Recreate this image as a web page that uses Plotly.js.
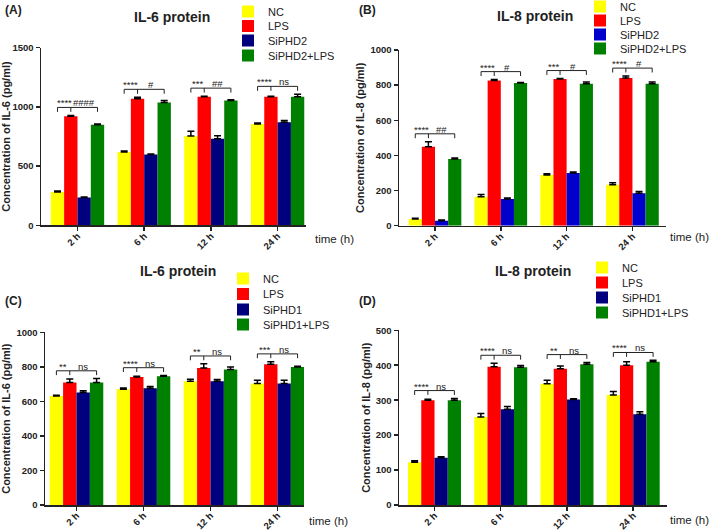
<!DOCTYPE html>
<html>
<head>
<meta charset="utf-8">
<script src="https://cdn.plot.ly/plotly-3.0.1.min.js"></script>
<style>html,body{margin:0;padding:0;background:#fff}#chart{width:709px;height:531px}</style>
</head>
<body>
<div id="chart"></div>
<script>
// ---- data ----
const times = ['2 h', '6 h', '12 h', '24 h'];

// Panel A: IL-6, SiPHD2
const groupsA = ['NC', 'LPS', 'SiPHD2', 'SiPHD2+LPS'];
const a_NC = [282, 619, 754, 855];      const a_NC_err = [8, 8, 40, 8];
const a_LPS = [920, 1069, 1086, 1086];  const a_LPS_err = [8, 12, 5, 5];
const a_Si = [234, 597, 732, 870];      const a_Si_err = [5, 5, 25, 15];
const a_SiLPS = [850, 1038, 1055, 1086];const a_SiLPS_err = [5, 15, 5, 20];
const sigA = [['****', '####'], ['****', '#'], ['***', '##'], ['****', 'ns']];

// Panel B: IL-8, SiPHD2
const groupsB = ['NC', 'LPS', 'SiPHD2', 'SiPHD2+LPS'];
const b_NC = [38, 165, 288, 233];       const b_NC_err = [5, 12, 8, 12];
const b_LPS = [450, 827, 835, 840];     const b_LPS_err = [28, 5, 3, 12];
const b_Si = [28, 152, 300, 184];       const b_Si_err = [5, 5, 5, 10];
const b_SiLPS = [380, 812, 808, 808];   const b_SiLPS_err = [5, 3, 10, 10];
const sigB = [['****', '##'], ['****', '#'], ['***', '#'], ['****', '#']];

// Panel C: IL-6, SiPHD1
const groupsC = ['NC', 'LPS', 'SiPHD1', 'SiPHD1+LPS'];
const c_NC = [631, 670, 716, 703];      const c_NC_err = [5, 8, 12, 20];
const c_LPS = [710, 741, 793, 815];     const c_LPS_err = [20, 5, 25, 15];
const c_Si = [652, 676, 716, 703];      const c_Si_err = [10, 10, 10, 20];
const c_SiLPS = [710, 745, 784, 799];   const c_SiLPS_err = [22, 5, 15, 5];
const sigC = [['**', 'ns'], ['****', 'ns'], ['**', 'ns'], ['***', 'ns']];

// Panel D: IL-8, SiPHD1
const groupsD = ['NC', 'LPS', 'SiPHD1', 'SiPHD1+LPS'];
const d_NC = [122, 252, 347, 315];      const d_NC_err = [5, 10, 10, 10];
const d_LPS = [300, 396, 390, 400];     const d_LPS_err = [3, 10, 8, 10];
const d_Si = [135, 274, 302, 260];      const d_Si_err = [3, 8, 2, 7];
const d_SiLPS = [300, 394, 403, 410];   const d_SiLPS_err = [5, 5, 5, 4];
const sigD = [['****', 'ns'], ['****', 'ns'], ['**', 'ns'], ['****', 'ns']];

// ---- styling / layout ----
const W = 709, H = 531;
const px = v => v / W, py = v => 1 - v / H;
const FONT = 'Liberation Sans, Arial, sans-serif';
const INK = '#222';
const BARGAP = 0.2;
const LEG_OFFSET = 15;   // px from legend top to the centre of its first row

const panels = [
  {id: '', names: groupsA, vals: [a_NC, a_LPS, a_Si, a_SiLPS], errs: [a_NC_err, a_LPS_err, a_Si_err, a_SiLPS_err],
   sig: sigA, colors: ['#FFFF00', '#FF0000', '#00007F', '#008000'],
   xd: [px(41), px(306)], yd: [py(225.3), py(47.7)], xr: [-0.547, 3.426], yr: [0, 1500], dt: 500,
   ytitle: 'Concentration of IL-6 (pg/ml)', title: 'IL-6 protein', tpos: [172, 17], lab: '(A)', lpos: [3, 10],
   time: [313, 239], legX: 228, legRows: [12, 26.5, 41, 56]},
  {id: '2', names: groupsB, vals: [b_NC, b_LPS, b_Si, b_SiLPS], errs: [b_NC_err, b_LPS_err, b_Si_err, b_SiLPS_err],
   sig: sigB, colors: ['#FFFF00', '#FF0000', '#0000CC', '#008000'],
   xd: [px(399), px(666)], yd: [py(225.7), py(50)], xr: [-0.547, 3.51], yr: [0, 1000], dt: 200,
   ytitle: 'Concentration of IL-8 (pg/ml)', title: 'IL-8 protein', tpos: [535, 16], lab: '(B)', lpos: [357, 10],
   time: [668, 237], legX: 580, legRows: [7, 21, 35, 49]},
  {id: '3', names: groupsC, vals: [c_NC, c_LPS, c_Si, c_SiLPS], errs: [c_NC_err, c_LPS_err, c_Si_err, c_SiLPS_err],
   sig: sigC, colors: ['#FFFF00', '#FF0000', '#00007F', '#008000'],
   xd: [px(45), px(304)], yd: [py(505), py(332.3)], xr: [-0.47, 3.396], yr: [0, 1000], dt: 200,
   ytitle: 'Concentration of IL-6 (pg/ml)', title: 'IL-6 protein', tpos: [178, 271], lab: '(C)', lpos: [3, 301],
   time: [307, 521], legX: 223, legRows: [279, 294.5, 310, 325]},
  {id: '4', names: groupsD, vals: [d_NC, d_LPS, d_Si, d_SiLPS], errs: [d_NC_err, d_LPS_err, d_Si_err, d_SiLPS_err],
   sig: sigD, colors: ['#FFFF00', '#FF0000', '#00007F', '#008000'],
   xd: [px(399), px(667)], yd: [py(505), py(330.3)], xr: [-0.536, 3.51], yr: [0, 500], dt: 100,
   ytitle: 'Concentration of IL-8 (pg/ml)', title: 'IL-8 protein', tpos: [533, 271], lab: '(D)', lpos: [357, 301],
   time: [668, 520], legX: 582, legRows: [268, 283, 298, 313]}
];

const traces = [];
const layout = {
  width: W, height: H, margin: {l: 0, r: 0, t: 0, b: 0, autoexpand: false},
  paper_bgcolor: '#fff', plot_bgcolor: '#fff', showlegend: true,
  barmode: 'group', bargap: BARGAP, bargroupgap: 0,
  font: {family: FONT, color: INK},
  shapes: [], annotations: []
};

const w = (1 - BARGAP) / 4;
panels.forEach((p, pi) => {
  const xa = 'x' + p.id, ya = 'y' + p.id;
  p.names.forEach((nm, k) => {
    const n = pi * 4 + k + 1;
    const legName = n === 1 ? 'legend' : 'legend' + n;
    traces.push({
      type: 'bar', name: nm, x: times, y: p.vals[k], xaxis: xa, yaxis: ya, legend: legName, showlegend: true,
      marker: {color: p.colors[k], line: {width: 0}},
      error_y: {type: 'data', symmetric: false, array: p.errs[k], arrayminus: p.errs[k].map(() => 0),
                color: '#000', thickness: 1.5, width: 3.5},
      hoverinfo: 'y+name'
    });
    layout[legName] = {
      visible: true,
      x: px(p.legX), y: py(p.legRows[k] - LEG_OFFSET), xanchor: 'left', yanchor: 'top', xref: 'paper', yref: 'paper',
      bgcolor: 'rgba(0,0,0,0)', borderwidth: 0, font: {size: 11, family: FONT, color: INK}
    };
  });
  layout['xaxis' + p.id] = {
    domain: p.xd, anchor: ya, range: p.xr, type: 'category', fixedrange: true,
    showline: true, linecolor: INK, linewidth: 1.5, ticks: 'outside', ticklen: 4, tickwidth: 1.5, tickcolor: INK,
    tickangle: -45, ticklabelstandoff: -4,
    tickfont: {size: 9.5, weight: 'bold', color: INK, family: FONT}, showgrid: false, zeroline: false
  };
  layout['yaxis' + p.id] = {
    domain: p.yd, anchor: xa, range: p.yr, dtick: p.dt, fixedrange: true,
    showline: true, linecolor: INK, linewidth: 1.5, ticks: 'outside', ticklen: 4, tickwidth: 1.5, tickcolor: INK,
    tickfont: {size: 9.5, weight: 'bold', color: INK, family: FONT}, showgrid: false, zeroline: false,
    title: {text: p.ytitle, font: {size: 11, weight: 'bold', color: INK, family: FONT}, standoff: 3}
  };
  // significance brackets, computed from the bars
  const span = p.yr[1] - p.yr[0];
  times.forEach((t, i) => {
    const top = Math.max(...p.vals.map((v, k) => v[i] + p.errs[k][i]));
    const lvl = top + 0.045 * span, tick = 0.025 * span;
    const xs = [i - 1.5 * w, i - 0.5 * w, i + 1.5 * w];
    const ln = {color: INK, width: 1};
    layout.shapes.push({type: 'line', xref: xa, yref: ya, x0: xs[0], x1: xs[2], y0: lvl, y1: lvl, line: ln});
    xs.forEach(xv => layout.shapes.push({type: 'line', xref: xa, yref: ya, x0: xv, x1: xv, y0: lvl - tick, y1: lvl, line: ln}));
    [[xs[0], xs[1]], [xs[1], xs[2]]].forEach((pair, j) => {
      layout.annotations.push({xref: xa, yref: ya, x: (pair[0] + pair[1]) / 2, y: lvl, yanchor: 'bottom',
        text: p.sig[i][j], showarrow: false, font: {size: 9.5, color: INK, family: FONT}, yshift: -3});
    });
  });
  // titles and labels
  layout.annotations.push({xref: 'paper', yref: 'paper', x: px(p.tpos[0]), y: py(p.tpos[1]), xanchor: 'center', yanchor: 'middle',
    text: p.title, showarrow: false, font: {size: 14, weight: 'bold', color: INK, family: FONT}});
  layout.annotations.push({xref: 'paper', yref: 'paper', x: px(p.lpos[0]), y: py(p.lpos[1]), xanchor: 'left', yanchor: 'middle',
    text: p.lab, showarrow: false, font: {size: 12, weight: 'bold', color: INK, family: FONT}});
  layout.annotations.push({xref: 'paper', yref: 'paper', x: px(p.time[0]), y: py(p.time[1]), xanchor: 'left', yanchor: 'middle',
    text: 'time (h)', showarrow: false, font: {size: 11.5, color: INK, family: FONT}});
});

Plotly.newPlot('chart', traces, layout, {displayModeBar: false, staticPlot: true});
</script>
</body>
</html>
